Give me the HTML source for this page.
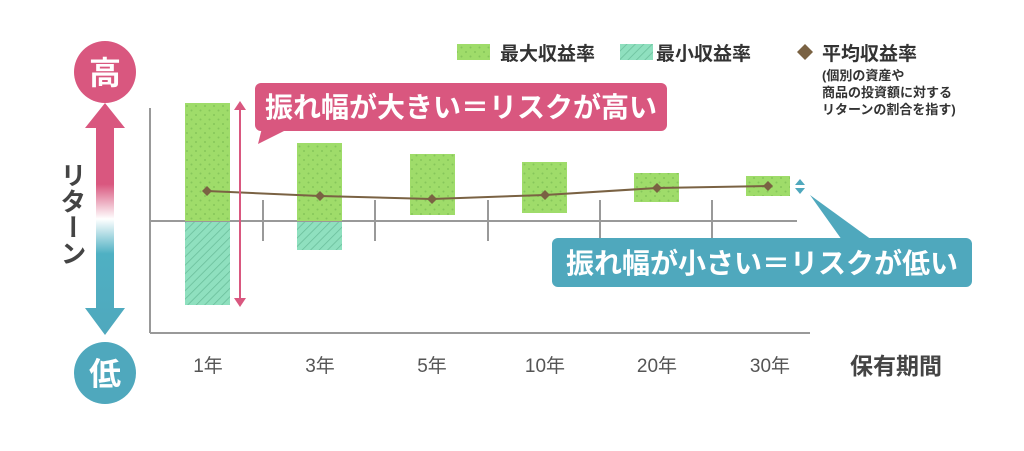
<!DOCTYPE html>
<html><head><meta charset="utf-8"><style>
html,body{margin:0;padding:0;background:#fff;}
svg{display:block;font-family:"Liberation Sans","Noto Sans CJK JP",sans-serif;}
</style></head><body>
<svg width="1024" height="451" viewBox="0 0 1024 451" xmlns="http://www.w3.org/2000/svg">
<defs>
<pattern id="dots" width="9" height="9" patternUnits="userSpaceOnUse">
<rect width="9" height="9" fill="#9fdc6a"/><circle cx="2.5" cy="2.5" r="1" fill="#86c65a"/><circle cx="7" cy="7" r="1" fill="#86c65a"/>
</pattern>
<pattern id="hatch" width="6" height="6" patternUnits="userSpaceOnUse" patternTransform="rotate(45)">
<rect width="6" height="6" fill="#8fe0bf"/><line x1="0" y1="0" x2="0" y2="6" stroke="#6bbf9c" stroke-width="1.6"/>
</pattern>
<linearGradient id="ret" x1="0" y1="0" x2="0" y2="1">
<stop offset="0" stop-color="#d9577f"/><stop offset="0.35" stop-color="#d9577f"/><stop offset="0.5" stop-color="#ffffff"/><stop offset="0.65" stop-color="#4fb0c3"/><stop offset="1" stop-color="#4fa8bd"/>
</linearGradient>
</defs>
<polygon points="105,103 125,128 114,128 114,308 125,308 105,335 85,308 96,308 96,128 85,128" fill="url(#ret)"/>
<circle cx="105" cy="72" r="31" fill="#d9577f"/>
<text x="105" y="84" font-size="32" font-weight="bold" fill="#fff" text-anchor="middle">高</text>
<circle cx="105" cy="373" r="31" fill="#4fa8bd"/>
<text x="105" y="385" font-size="32" font-weight="bold" fill="#fff" text-anchor="middle">低</text>
<text x="72" y="162" font-size="26" font-weight="bold" fill="#444" text-anchor="start" style="writing-mode:vertical-rl">リターン</text>
<line x1="150" y1="108" x2="150" y2="333" stroke="#999" stroke-width="2"/>
<line x1="150" y1="333" x2="810" y2="333" stroke="#999" stroke-width="2"/>
<line x1="150" y1="221" x2="797" y2="221" stroke="#999" stroke-width="2"/>
<g stroke="#999" stroke-width="2">
<line x1="263" y1="200" x2="263" y2="241"/><line x1="375" y1="200" x2="375" y2="241"/>
<line x1="488" y1="200" x2="488" y2="241"/><line x1="600" y1="200" x2="600" y2="241"/><line x1="712" y1="200" x2="712" y2="241"/>
</g>
<rect x="185" y="103" width="45" height="118" fill="url(#dots)"/>
<rect x="185" y="222" width="45" height="83" fill="url(#hatch)"/>
<rect x="297" y="143" width="45" height="78" fill="url(#dots)"/>
<rect x="297" y="222" width="45" height="28" fill="url(#hatch)"/>
<rect x="410" y="154" width="45" height="61" fill="url(#dots)"/>
<rect x="522" y="162" width="45" height="51" fill="url(#dots)"/>
<rect x="634" y="173" width="45" height="29" fill="url(#dots)"/>
<rect x="746" y="176" width="44" height="20" fill="url(#dots)"/>
<polyline points="207,191 320,196 432,199 545,195 657,188 768,186" fill="none" stroke="#7a6243" stroke-width="2"/>
<g fill="#7a6243">
<polygon points="207,186 212,191 207,196 202,191"/><polygon points="320,191 325,196 320,201 315,196"/>
<polygon points="432,194 437,199 432,204 427,199"/><polygon points="545,190 550,195 545,200 540,195"/>
<polygon points="657,183 662,188 657,193 652,188"/><polygon points="768,181 773,186 768,191 763,186"/>
</g>
<line x1="240" y1="108" x2="240" y2="300" stroke="#d9577f" stroke-width="2"/>
<polygon points="240,101 234,110 246,110" fill="#d9577f"/><polygon points="240,307 234,298 246,298" fill="#d9577f"/>
<rect x="255" y="83" width="412" height="48" rx="6" fill="#d9577f"/>
<polygon points="262,128 258,144 290,128" fill="#d9577f"/>
<text x="461" y="117" font-size="28" font-weight="bold" fill="#fff" text-anchor="middle">振れ幅が大きい＝リスクが高い</text>
<polygon points="800,179 805,185 795,185" fill="#4fa8bd"/><polygon points="800,194 805,188 795,188" fill="#4fa8bd"/>
<polygon points="810,195 842,240 872,240" fill="#4fa8bd"/>
<rect x="552" y="238" width="420" height="49" rx="6" fill="#4fa8bd"/>
<text x="762" y="273" font-size="28" font-weight="bold" fill="#fff" text-anchor="middle">振れ幅が小さい＝リスクが低い</text>
<rect x="457" y="44" width="33" height="16" fill="url(#dots)"/>
<text x="500" y="60" font-size="19" font-weight="bold" fill="#333">最大収益率</text>
<rect x="620" y="44" width="33" height="16" fill="url(#hatch)"/>
<text x="656" y="60" font-size="19" font-weight="bold" fill="#333">最小収益率</text>
<polygon points="805,44 813,52 805,60 797,52" fill="#7a6243"/>
<text x="822" y="60" font-size="19" font-weight="bold" fill="#333">平均収益率</text>
<text x="822" y="80" font-size="13" font-weight="bold" fill="#333">(個別の資産や</text>
<text x="822" y="97" font-size="13" font-weight="bold" fill="#333">商品の投資額に対する</text>
<text x="822" y="114" font-size="13" font-weight="bold" fill="#333">リターンの割合を指す)</text>
<g font-size="19" fill="#555" text-anchor="middle">
<text x="208" y="372">1年</text><text x="320" y="372">3年</text><text x="432" y="372">5年</text>
<text x="545" y="372">10年</text><text x="657" y="372">20年</text><text x="770" y="372">30年</text>
</g>
<text x="850" y="374" font-size="23" font-weight="bold" fill="#444">保有期間</text>
</svg>
</body></html>
